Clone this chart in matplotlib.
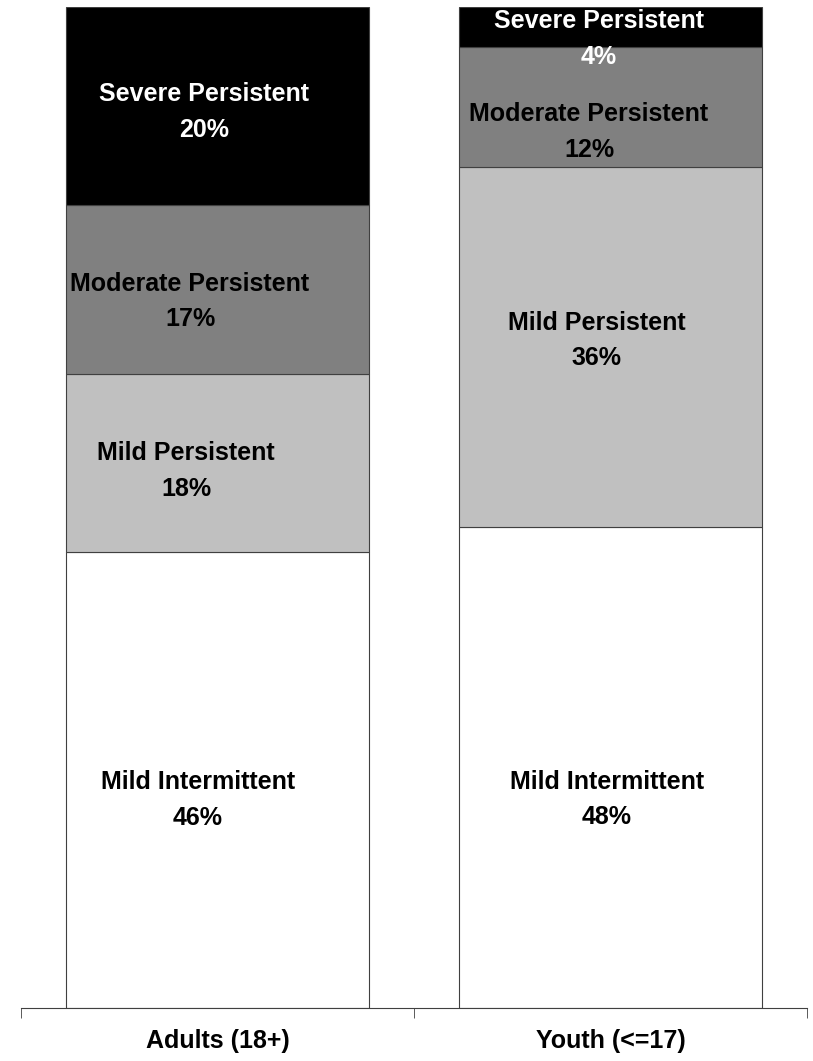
import matplotlib.pyplot as plt
import numpy as np

plt.rcParams['font.family'] = ['Liberation Sans', 'DejaVu Sans']

groups = ['Adults (18+)', 'Youth (<=17)']
severity = ['Mild Intermittent', 'Mild Persistent', 'Moderate Persistent', 'Severe Persistent']
adults = [46, 18, 17, 20]
youth = [48, 36, 12, 4]

colors = ['#ffffff', '#c0c0c0', '#808080', '#000000']
text_colors = ['black', 'black', 'black', 'white']

# per-label nudges (x in bar units, y in percent), layout only
nudge_x = [[-0.05, -0.08, -0.07, -0.035], [-0.01, -0.035, -0.055, -0.03]]
nudge_y = [[-2.0, -0.8, -1.2, -0.6], [-3.2, 0.7, -2.5, -1.2]]

fig = plt.figure(figsize=(8.13, 10.61), dpi=100)
ax = fig.add_axes([0.0258, 0.05, 0.967, 0.9434])

data = np.array([adults, youth], dtype=float)
shares = data / data.sum(axis=1, keepdims=True) * 100
x = np.arange(len(groups))
width = 0.77
bottom = np.zeros(len(groups))
for j, name in enumerate(severity):
    ax.bar(x, shares[:, j], width, bottom=bottom, color=colors[j],
           edgecolor='#404040', linewidth=0.8)
    for i in range(len(groups)):
        yc = bottom[i] + shares[i, j] / 2 + nudge_y[i][j]
        ax.text(x[i] + nudge_x[i][j], yc, f'{name}\n{data[i, j]:.0f}%',
                ha='center', va='center', fontsize=18, fontweight='bold',
                color=text_colors[j], linespacing=1.6)
    bottom += shares[:, j]

ax.set_xlim(-0.5, 1.5)
ax.set_ylim(0, 100)
for s in ['top', 'right', 'left']:
    ax.spines[s].set_visible(False)
ax.spines['bottom'].set_color('#404040')
ax.yaxis.set_visible(False)
ax.set_xticks(x)
ax.set_xticklabels(groups, fontsize=18, fontweight='bold')
ax.tick_params(axis='x', which='major', length=0, pad=15)
ax.set_xticks([-0.5, 0.5, 1.5], minor=True)
ax.tick_params(axis='x', which='minor', length=7, direction='out', color='#404040')

fig.savefig('out.png', dpi=100)
